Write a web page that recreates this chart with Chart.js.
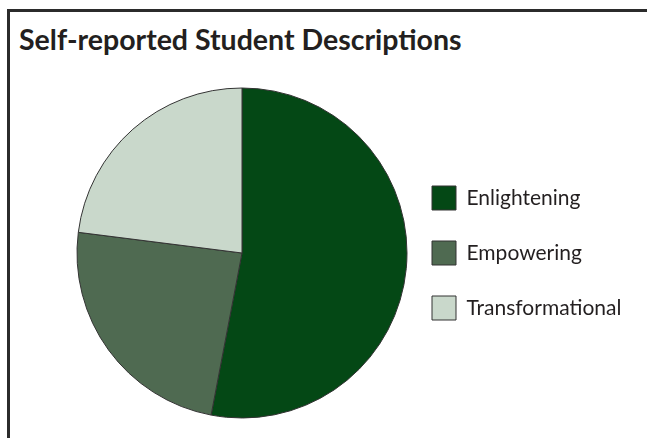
<!DOCTYPE html>
<html>
<head>
<meta charset="utf-8">
<script src="https://cdn.jsdelivr.net/npm/chart.js@4"></script>
<style>
  html, body { margin: 0; padding: 0; background: #fff; }
  body { width: 647px; height: 438px; position: relative; overflow: hidden; }
  .moldura {
    position: absolute; left: 7px; top: 9px; width: 700px; height: 500px;
    border-top: 3px solid #2b2b2b; border-left: 3px solid #2b2b2b;
  }
  .titulo {
    position: absolute; left: 19px; top: 22px;
    font-family: Lato, sans-serif; font-weight: bold; font-size: 28.5px;
    color: #231f20; white-space: nowrap;
  }
  #grafico { position: absolute; left: 0; top: 0; }
</style>
</head>
<body>
<div class="moldura"></div>
<div class="titulo">Self-reported Student Descriptions</div>
<canvas id="grafico" width="647" height="438"></canvas>
<script>
const categorias = ['Enlightening', 'Empowering', 'Transformational'];
const valores = [53, 24, 23];
const cores = ['#044815', '#4f6a51', '#c9d8cb'];

const ctx = document.getElementById('grafico').getContext('2d');

const chart = new Chart(ctx, {
  type: 'pie',
  data: {
    labels: categorias,
    datasets: [{
      data: valores,
      backgroundColor: cores,
      borderColor: '#333',
      borderWidth: 1,
      radius: 165
    }]
  },
  options: {
    responsive: false,
    animation: false,
    layout: { padding: { top: 90, bottom: 22, left: 83, right: 20 } },
    plugins: {
      tooltip: { enabled: false },
      legend: {
        position: 'right',
        align: 'center',
        labels: {
          boxWidth: 24,
          boxHeight: 24,
          padding: 31,
          color: '#231f20',
          font: { family: 'Lato, sans-serif', size: 21 }
        }
      }
    }
  }
});

// legenda deve comecar em x=401 para o box ficar em 432
chart.options.layout.padding.right += chart.legend.left - 401;
chart.update();
</script>
</body>
</html>
